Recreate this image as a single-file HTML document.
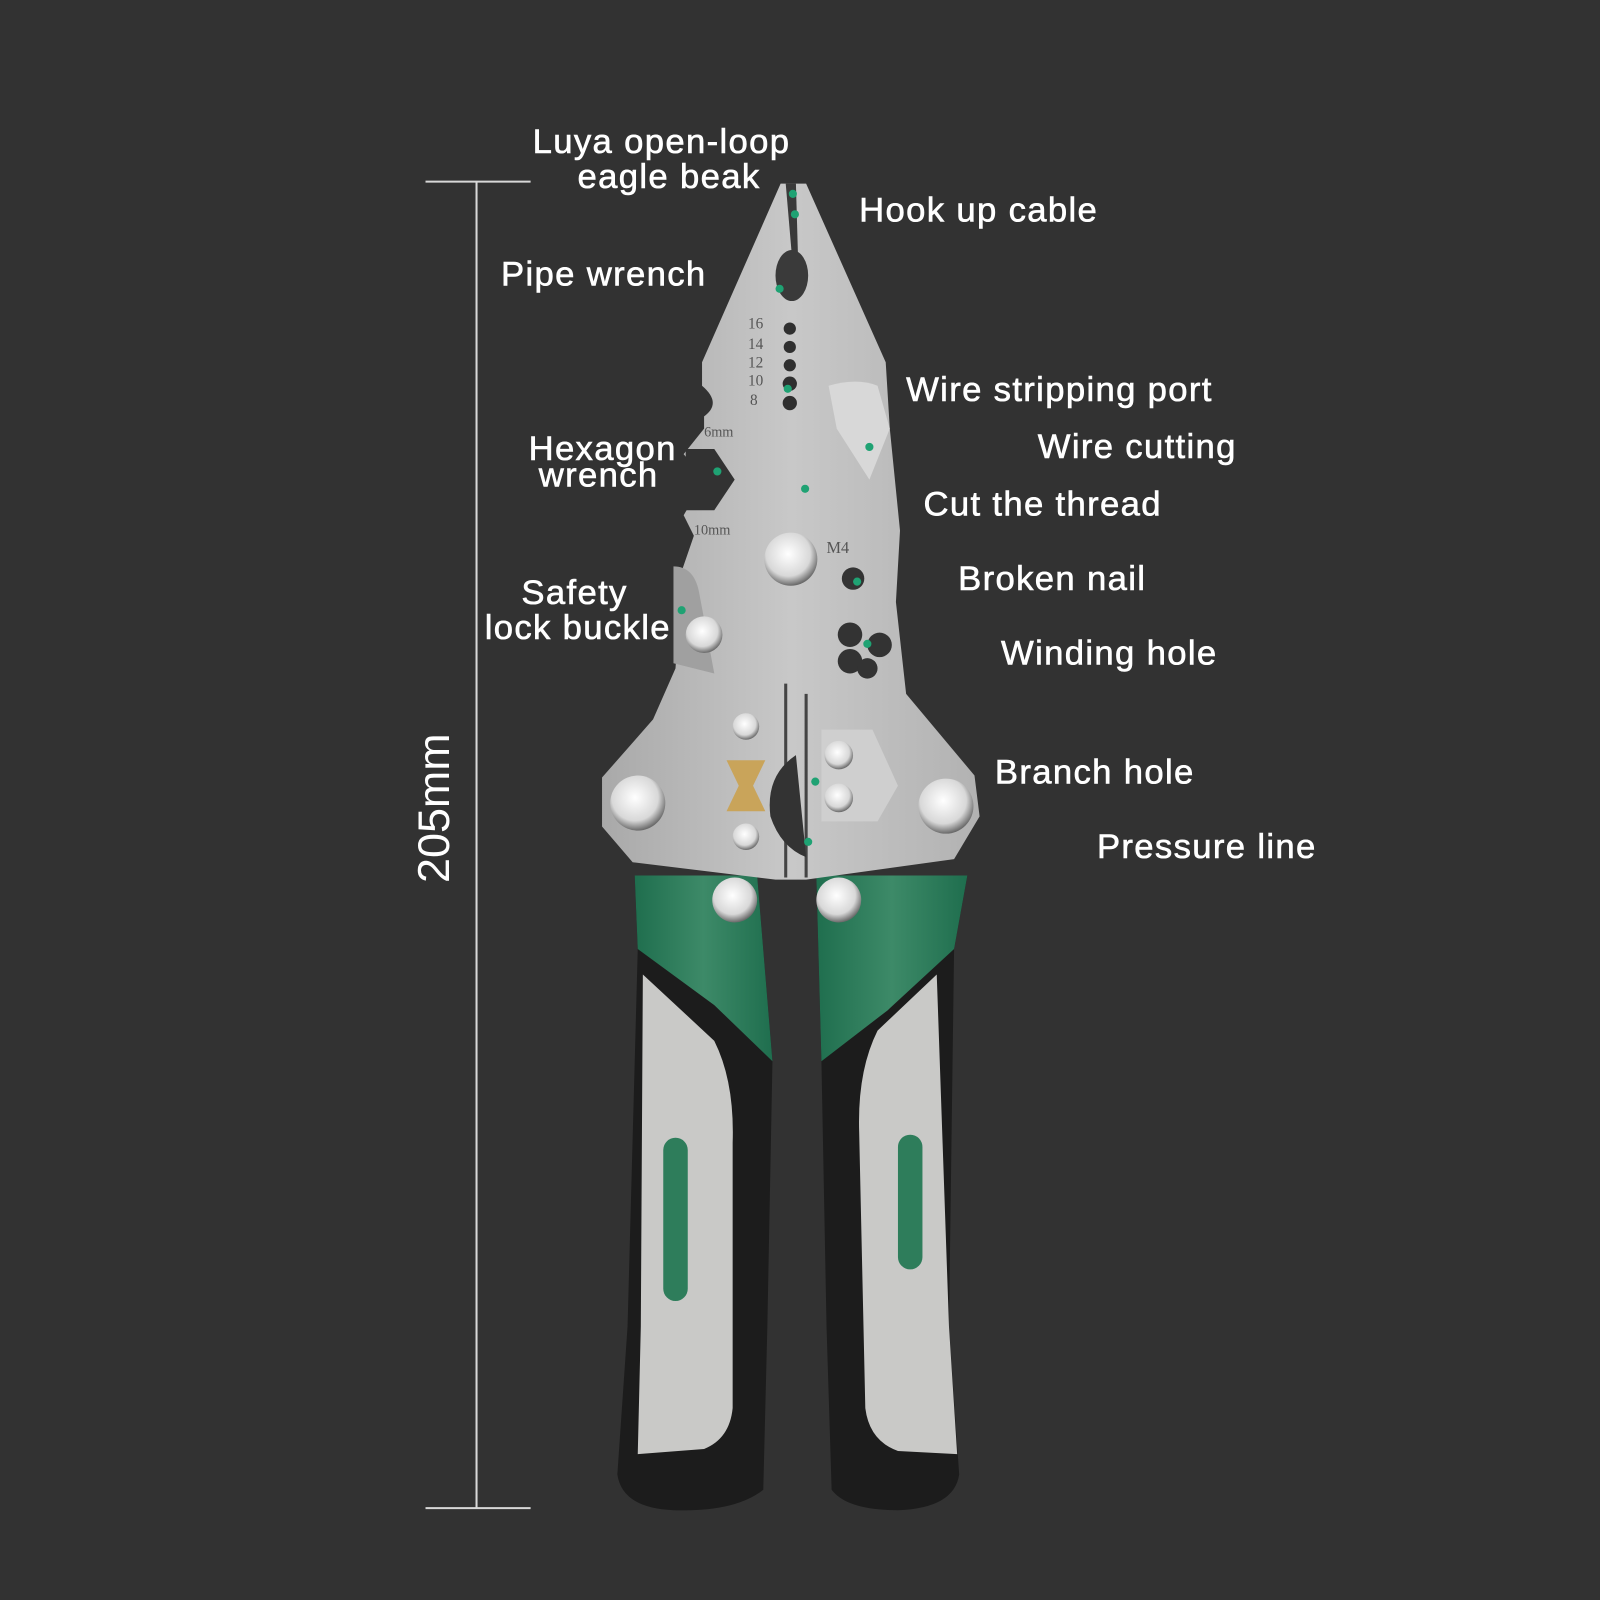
<!DOCTYPE html>
<html><head><meta charset="utf-8"><style>
html,body{margin:0;padding:0;background:#323232;}
svg{display:block}
text{font-family:"Liberation Sans",sans-serif;fill:#fff;font-size:34px;letter-spacing:1.3px;stroke:#fff;stroke-width:0.6px}
</style></head><body>
<svg width="1600" height="1600" viewBox="0 0 1568 1568" xmlns="http://www.w3.org/2000/svg">
<defs>
<linearGradient id="steel" x1="0" x2="1" y1="0" y2="0">
<stop offset="0" stop-color="#a9a9a9"/><stop offset="0.5" stop-color="#c8c8c8"/><stop offset="1" stop-color="#b2b2b2"/>
</linearGradient>
<radialGradient id="riv" cx="0.45" cy="0.4" r="0.6">
<stop offset="0" stop-color="#ffffff"/><stop offset="0.7" stop-color="#d8d8d8"/><stop offset="1" stop-color="#6a6a6a"/>
</radialGradient>
<linearGradient id="grn" x1="0" x2="1"><stop offset="0" stop-color="#1f6e4e"/><stop offset="0.5" stop-color="#3d8a68"/><stop offset="1" stop-color="#1f6e4e"/></linearGradient>
</defs>

<g stroke="#d8d8d8" stroke-width="2">
<line x1="467" y1="178" x2="467" y2="1478"/>
<line x1="417" y1="178" x2="520" y2="178"/>
<line x1="417" y1="1478" x2="520" y2="1478"/>
</g>
<text transform="translate(440,792) rotate(-90)" text-anchor="middle" style="font-size:44px;stroke-width:0;letter-spacing:0">205mm</text>

<path d="M622,858 L742,858 L757,1040 L752,1300 L748,1460 Q720,1482 660,1480 Q610,1478 605,1445 L615,1300 L625,930 Z" fill="#1c1c1c"/>
<path d="M630,955 L700,1020 Q720,1060 718,1120 L718,1380 Q715,1410 690,1420 L625,1425 L628,1300 Z" fill="#c9c9c7"/>
<path d="M622,858 L742,858 L757,1040 L700,985 L625,930 Z" fill="url(#grn)"/>
<rect x="650" y="1115" width="24" height="160" rx="12" fill="#2e7d5b"/>

<path d="M800,858 L948,858 L935,930 L930,1300 L940,1445 Q935,1478 880,1480 Q830,1480 815,1460 L810,1300 L805,1040 Z" fill="#1c1c1c"/>
<path d="M918,955 L860,1010 Q840,1050 842,1110 L848,1380 Q852,1412 880,1422 L938,1425 L930,1300 Z" fill="#c9c9c7"/>
<path d="M800,858 L948,858 L935,930 L870,990 L805,1040 Z" fill="url(#grn)"/>
<rect x="880" y="1112" width="24" height="132" rx="12" fill="#2e7d5b"/>

<path d="M765,180 L790,180 L868,355 L872,420 L882,520 L878,590 L888,680 L955,760 L960,800 L935,842 L790,862 L760,862 L620,845 L590,810 L590,762 L640,705 L662,655 L668,560 L680,525 L670,505 L690,470 L670,445 L690,420 L690,408 Q708,395 688,378 L688,355 Z" fill="url(#steel)"/>
<path d="M770,180 L780,180 L782,250 L776,250 Z" fill="#3a3a3a"/>
<ellipse cx="776" cy="270" rx="16" ry="25" fill="#3a3a3a"/>
<g fill="#2f2f2f"><circle cx="774" cy="322" r="6"/><circle cx="774" cy="340" r="6"/><circle cx="774" cy="358" r="6"/><circle cx="774" cy="376" r="7"/><circle cx="774" cy="395" r="7"/></g>
<path d="M812,378 Q840,370 860,378 L872,420 L852,470 L820,420 Z" fill="#d8d8d8"/>
<path d="M672,440 L700,440 L720,470 L700,500 L672,500 Z" fill="#323232"/>
<path d="M770,860 L770,670 M790,860 L790,680" stroke="#444" stroke-width="3"/>
<circle cx="775" cy="548" r="26" fill="url(#riv)"/>
<circle cx="836" cy="567" r="11" fill="#333"/>
<g fill="#333"><circle cx="833" cy="622" r="12"/><circle cx="862" cy="632" r="12"/><circle cx="833" cy="648" r="12"/><circle cx="850" cy="655" r="10"/></g>
<path d="M660,555 Q680,555 685,580 L700,660 L660,650 Z" fill="#a0a0a0"/>
<circle cx="690" cy="622" r="18" fill="url(#riv)"/>
<path d="M780,740 Q750,760 755,800 Q765,830 790,840 Z" fill="#333"/>
<path d="M805,715 L855,715 L880,770 L860,805 L805,805 Z" fill="#cfcfcf"/>
<circle cx="822" cy="740" r="14" fill="url(#riv)"/><circle cx="822" cy="782" r="14" fill="url(#riv)"/>
<path d="M712,745 L750,745 L738,770 L750,795 L712,795 L724,770 Z" fill="#c9a45a"/>
<circle cx="731" cy="712" r="13" fill="url(#riv)"/><circle cx="731" cy="820" r="13" fill="url(#riv)"/>
<circle cx="625" cy="787" r="27" fill="url(#riv)"/>
<circle cx="927" cy="790" r="27" fill="url(#riv)"/>
<circle cx="720" cy="882" r="22" fill="url(#riv)"/>
<circle cx="822" cy="882" r="22" fill="url(#riv)"/>
<g>
<text x="733" y="322" style="fill:#555;stroke-width:0;letter-spacing:0;font-family:'Liberation Serif',serif;font-size:15px">16</text>
<text x="733" y="342" style="fill:#555;stroke-width:0;letter-spacing:0;font-family:'Liberation Serif',serif;font-size:15px">14</text>
<text x="733" y="360" style="fill:#555;stroke-width:0;letter-spacing:0;font-family:'Liberation Serif',serif;font-size:15px">12</text>
<text x="733" y="378" style="fill:#555;stroke-width:0;letter-spacing:0;font-family:'Liberation Serif',serif;font-size:15px">10</text>
<text x="735" y="397" style="fill:#555;stroke-width:0;letter-spacing:0;font-family:'Liberation Serif',serif;font-size:15px">8</text>
<text x="690" y="428" style="fill:#555;stroke-width:0;letter-spacing:0;font-family:'Liberation Serif',serif;font-size:14px">6mm</text>
<text x="680" y="524" style="fill:#555;stroke-width:0;letter-spacing:0;font-family:'Liberation Serif',serif;font-size:14px">10mm</text>
<text x="810" y="542" style="fill:#555;stroke-width:0;letter-spacing:0;font-family:'Liberation Serif',serif;font-size:16px">M4</text>
</g>
<g fill="#1fa273">
<circle cx="777" cy="190" r="4"/><circle cx="779" cy="210" r="4"/><circle cx="764" cy="283" r="4"/><circle cx="772" cy="381" r="4"/>
<circle cx="852" cy="438" r="4"/><circle cx="703" cy="462" r="4"/><circle cx="789" cy="479" r="4"/><circle cx="840" cy="570" r="4"/>
<circle cx="668" cy="598" r="4"/><circle cx="850" cy="631" r="4"/><circle cx="799" cy="766" r="4"/><circle cx="792" cy="825" r="4"/>
</g>

<text x="522" y="150">Luya open-loop</text>
<text x="566" y="184">eagle beak</text>
<text x="842" y="217">Hook up cable</text>
<text x="491" y="280">Pipe wrench</text>
<text x="888" y="393">Wire stripping port</text>
<text x="1017" y="449">Wire cutting</text>
<text x="518" y="451">Hexagon</text>
<text x="528" y="477">wrench</text>
<text x="905" y="505">Cut the thread</text>
<text x="939" y="578">Broken nail</text>
<text x="511" y="592">Safety</text>
<text x="475" y="626">lock buckle</text>
<text x="981" y="651">Winding hole</text>
<text x="975" y="768">Branch hole</text>
<text x="1075" y="841">Pressure line</text>
</svg>
</body></html>
